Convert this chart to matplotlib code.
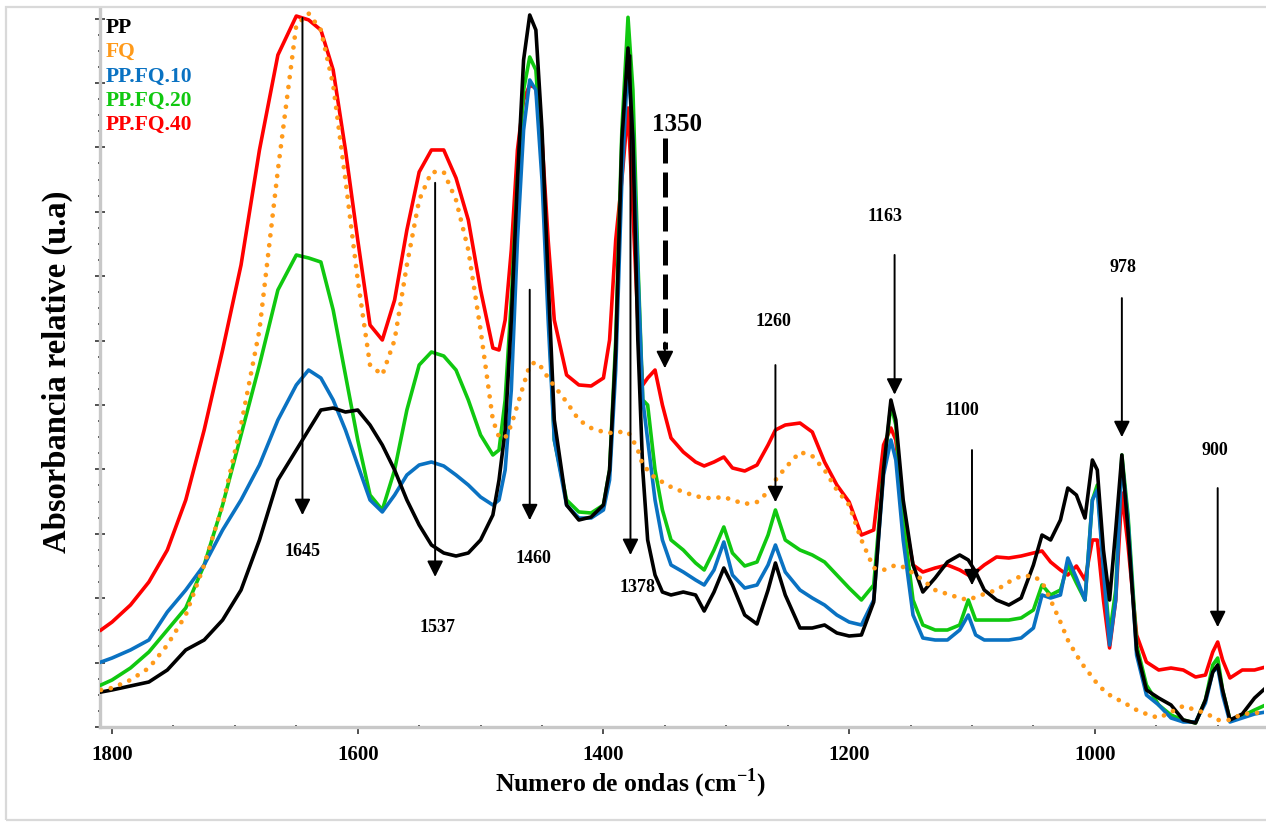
import matplotlib
matplotlib.use("Agg")
import matplotlib.pyplot as plt
from matplotlib.ticker import MultipleLocator, NullFormatter
from matplotlib.patches import Rectangle

plt.rcParams['font.family'] = ['Liberation Serif', 'DejaVu Serif']
plt.rcParams['mathtext.fontset'] = 'custom'
plt.rcParams['mathtext.rm'] = 'Liberation Serif'
plt.rcParams['mathtext.bf'] = 'Liberation Serif:bold'

# Wavenumber grid (cm-1), shared by all spectra
wavenumber = [1809, 1800, 1785, 1770, 1755, 1740, 1725, 1710, 1695, 1680,
              1665, 1650, 1640, 1630, 1620, 1610, 1600, 1590, 1580, 1570,
              1560, 1550, 1540, 1530, 1520, 1510, 1500, 1490, 1485, 1480,
              1475, 1470, 1465, 1460, 1455, 1450, 1445, 1440, 1430, 1420,
              1410, 1400, 1395, 1390, 1385, 1380, 1376, 1372, 1368, 1364,
              1358, 1352, 1345, 1335, 1325, 1318, 1310, 1302, 1295, 1285,
              1275, 1266, 1260, 1252, 1240, 1230, 1220, 1210, 1200, 1190,
              1180, 1172, 1166, 1162, 1156, 1148, 1140, 1130, 1120, 1110,
              1103, 1097, 1090, 1080, 1070, 1060, 1050, 1043, 1036, 1028,
              1022, 1015, 1008, 1002, 998, 993, 988, 983, 978, 973,
              966, 958, 948, 938, 928, 918, 910, 904, 900, 896,
              890, 880, 870, 861]

pp = [5.43, 5.75, 6.37, 6.99, 8.85, 11.96, 13.51, 16.61, 21.27, 29.04,
      38.35, 43.01, 46.12, 49.22, 49.53, 48.91, 49.22, 46.89, 43.79, 39.91,
      35.25, 31.37, 28.26, 27.02, 26.55, 27.02, 29.04, 32.92, 38.35, 46.12,
      63.20, 84.94, 103.57, 110.56, 108.23, 92.70, 69.41, 47.67, 34.47, 32.14,
      32.61, 34.47, 39.91, 58.54, 91.15, 105.43, 91.15, 60.09, 39.91, 29.04,
      23.60, 20.96, 20.50, 20.96, 20.50, 18.01, 20.96, 24.69, 22.05, 17.39,
      15.99, 21.27, 25.47, 20.50, 15.37, 15.37, 15.84, 14.60, 14.13, 14.29,
      19.41, 39.91, 50.78, 47.67, 35.25, 25.16, 20.96, 23.14, 25.62, 26.71,
      25.93, 24.07, 21.27, 19.72, 18.94, 20.03, 25.16, 29.81, 29.04, 32.14,
      37.11, 36.02, 32.45, 41.46, 39.91, 27.48, 19.72, 30.59, 42.24, 30.59,
      11.96, 5.75, 4.50, 3.42, 1.09, 0.62, 4.19, 8.54, 9.63, 5.75,
      1.09, 2.02, 4.50, 6.06]

fq = [5.75, 6.06, 7.30, 9.16, 12.73, 17.39, 25.16, 34.47, 46.89, 61.65,
      86.49, 109.01, 110.8, 108.23, 99.69, 84.94, 69.41, 56.21, 54.66, 60.09,
      71.74, 81.83, 86.18, 86.18, 81.83, 74.07, 61.65, 47.67, 45.03, 44.88,
      46.89, 50.0, 53.11, 56.21, 56.68, 55.75, 54.19, 52.95, 50.47, 47.67,
      46.43, 45.81, 45.65, 45.81, 45.81, 45.81, 44.57, 43.01, 40.68, 39.91,
      38.66, 38.04, 37.27, 36.49, 35.87, 35.56, 35.56, 35.71, 35.25, 34.63,
      34.94, 36.49, 38.35, 40.22, 42.70, 42.08, 39.91, 36.80, 34.47, 29.04,
      24.69, 24.38, 24.84, 25.16, 24.84, 23.91, 22.83, 21.27, 20.65, 20.03,
      19.72, 20.19, 20.65, 21.27, 22.52, 23.45, 23.45, 22.52, 19.72, 16.30,
      13.51, 11.18, 9.16, 7.76, 6.68, 5.75, 4.97, 4.50, 3.88, 3.42,
      2.64, 2.02, 1.40, 2.33, 3.26, 2.64, 2.17, 1.55, 1.09, 1.09,
      1.09, 2.02, 2.17, 2.33]

pp_fq10 = [10.09, 10.71, 11.96, 13.51, 17.86, 21.27, 25.16, 30.59, 35.25, 40.68,
           47.67, 53.11, 55.43, 54.19, 50.78, 46.12, 40.68, 35.25, 33.39, 36.02,
           39.13, 40.68, 41.15, 40.53, 39.13, 37.58, 35.71, 34.47, 35.25, 39.91,
           52.33, 75.62, 92.70, 100.47, 98.91, 84.94, 63.20, 44.57, 34.47, 32.45,
           32.45, 33.70, 38.35, 55.43, 84.94, 103.57, 91.15, 70.96, 50.78, 44.57,
           35.25, 29.04, 25.16, 24.07, 22.83, 22.05, 24.38, 28.73, 23.60, 21.58,
           22.05, 25.16, 28.26, 24.07, 21.27, 20.03, 18.94, 17.39, 16.30, 15.84,
           19.72, 39.13, 44.57, 41.46, 29.04, 17.39, 13.82, 13.51, 13.51, 15.06,
           17.39, 14.29, 13.51, 13.51, 13.51, 13.82, 15.37, 20.50, 20.03, 20.50,
           26.24, 23.14, 19.72, 35.25, 36.80, 24.38, 12.73, 19.72, 41.46, 32.14,
           11.18, 4.97, 3.42, 1.40, 0.78, 0.78, 3.73, 8.54, 9.32, 4.97,
           0.78, 1.40, 2.02, 2.33]

pp_fq20 = [6.52, 7.30, 9.16, 11.65, 15.06, 18.48, 25.16, 34.47, 45.34, 56.21,
           67.86, 73.29, 72.83, 72.20, 64.75, 54.66, 44.57, 36.02, 33.70, 39.91,
           49.22, 56.21, 58.23, 57.61, 55.43, 50.78, 45.34, 42.24, 43.01, 50.78,
           66.30, 84.94, 98.91, 104.04, 102.02, 88.04, 66.30, 44.57, 35.25, 33.39,
           33.23, 34.47, 39.91, 60.09, 92.70, 110.2, 98.91, 72.52, 50.78, 50.0,
           39.91, 33.70, 29.04, 27.48, 25.47, 24.38, 27.48, 31.06, 27.02, 25.0,
           25.62, 29.81, 33.70, 29.04, 27.48, 26.71, 25.62, 23.60, 21.58, 19.72,
           22.05, 39.91, 50.0, 46.89, 32.14, 19.72, 15.84, 15.06, 15.06, 15.84,
           19.72, 16.61, 16.61, 16.61, 16.61, 16.93, 18.17, 22.05, 20.50, 21.27,
           25.16, 22.36, 19.72, 35.25, 37.58, 25.16, 14.29, 21.27, 42.24, 32.92,
           12.73, 6.52, 3.42, 1.86, 1.09, 0.62, 4.19, 9.63, 10.71, 5.75,
           1.09, 1.71, 2.64, 3.42]

pp_fq40 = [15.06, 16.30, 18.94, 22.52, 27.48, 35.25, 46.12, 58.54, 71.74, 89.60,
           104.35, 110.4, 109.8, 108.23, 102.02, 89.60, 75.62, 62.42, 60.09, 66.30,
           77.17, 86.18, 89.60, 89.60, 85.25, 78.73, 67.86, 58.85, 58.54, 63.20,
           74.07, 89.60, 97.36, 99.69, 99.22, 91.15, 75.62, 63.20, 54.66, 53.11,
           52.95, 54.19, 60.09, 75.62, 85.0, 96.12, 80.0, 63.20, 53.11, 54.19,
           55.43, 50.0, 44.88, 42.70, 41.15, 40.53, 41.15, 41.93, 40.22, 39.75,
           40.68, 43.79, 46.12, 46.89, 47.20, 45.81, 41.15, 37.58, 34.94, 29.81,
           30.59, 43.79, 46.43, 44.57, 33.70, 25.16, 24.07, 24.69, 25.16, 24.38,
           23.60, 24.07, 25.16, 26.40, 26.24, 26.55, 27.02, 27.33, 25.62, 24.38,
           23.60, 25.0, 22.83, 29.04, 29.04, 19.72, 12.27, 19.72, 36.34, 28.26,
           14.29, 10.09, 8.85, 9.16, 8.85, 7.76, 8.07, 11.65, 13.20, 10.40,
           7.61, 8.85, 8.85, 9.32]

series_names = ["PP", "FQ", "PP.FQ.10", "PP.FQ.20", "PP.FQ.40"]
series_colors = ["#000000", "#FF9A1A", "#0A72C2", "#10C810", "#FF0000"]

# Band assignments: (wavenumber, arrow top, arrow tip)
band_pos = [1645, 1537, 1460, 1378, 1260, 1163, 1100, 978, 900]
band_top = [110.1, 84.5, 67.9, 104.3, 56.2, 73.3, 43.0, 66.6, 37.1]
band_tip = [32.9, 23.3, 32.1, 26.7, 34.9, 51.6, 22.0, 45.0, 15.5]
band_text_x = [1645, 1535, 1457, 1372, 1262, 1171, 1108, 977, 902]
band_text_y = [27.2, 15.5, 26.2, 21.6, 62.9, 79.2, 49.2, 71.3, 43.0]
# Dashed marker for the 1350 band
dash_pos, dash_top, dash_tip = 1350, 91.5, 55.7
dash_text_x, dash_text_y = 1340, 93.6

W, H = 1266, 823
fig = plt.figure(figsize=(W / 100, H / 100), dpi=100)
fig.patches.append(Rectangle((6 / W, 0.004), 1.0, 1 - 7 / H - 0.004,
                             transform=fig.transFigure, fill=False,
                             edgecolor="#d9d9d9", linewidth=1.6))

ax = fig.add_axes([100 / W, 1 - 727 / H, (1264 - 100) / W, (727 - 9) / H])
ax.set_xlim(1809.8, 862.3)
ax.set_ylim(0, 111.49)

spectra = {"PP": pp, "FQ": fq, "PP.FQ.10": pp_fq10,
           "PP.FQ.20": pp_fq20, "PP.FQ.40": pp_fq40}
order = ["PP.FQ.40", "PP.FQ.20", "PP.FQ.10", "PP", "FQ"]
for z, name in enumerate(order):
    c = series_colors[series_names.index(name)]
    if name == "FQ":
        ax.plot(wavenumber, spectra[name], color=c, lw=3.4,
                linestyle=(0, (0.01, 2.1)), dash_capstyle="round",
                zorder=3 + z)
    else:
        ax.plot(wavenumber, spectra[name], color=c, lw=2.6,
                solid_joinstyle="round", zorder=3 + z)

# Arrows marking the bands
for x, yt, yb in zip(band_pos, band_top, band_tip):
    ax.annotate("", xy=(x, yb), xytext=(x, yt),
                arrowprops=dict(arrowstyle="-|>", color="black", lw=1.4,
                                mutation_scale=24, shrinkA=0, shrinkB=0),
                zorder=20)
for t, tx, ty in zip(band_pos, band_text_x, band_text_y):
    ax.text(tx, ty, str(t), ha="center", va="center", fontsize=13,
            fontweight="bold", zorder=21)

ax.plot([dash_pos, dash_pos], [dash_top, dash_tip + 3], color="black",
        lw=3.6, linestyle=(0, (5, 1.8)), zorder=20)
ax.annotate("", xy=(dash_pos, dash_tip), xytext=(dash_pos, dash_tip + 4),
            arrowprops=dict(arrowstyle="-|>", color="black", lw=1.4,
                            mutation_scale=26, shrinkA=0, shrinkB=0),
            zorder=20)
ax.text(dash_text_x, dash_text_y, str(dash_pos), ha="center", va="center",
        fontsize=18, fontweight="bold", zorder=21)

# Series names in the upper left corner
for i, (name, c) in enumerate(zip(series_names, series_colors)):
    ax.text(0.005, 1 - (28 - 9 + 24.2 * i) / (727 - 9), name,
            transform=ax.transAxes, color=c, fontsize=15.5, fontweight="bold",
            ha="left", va="center", zorder=22)

# Axes styling
for s in ["top", "right"]:
    ax.spines[s].set_visible(False)
for s in ["left", "bottom"]:
    ax.spines[s].set_color("#c8c8c8")
    ax.spines[s].set_linewidth(2.4)

ax.xaxis.set_major_locator(MultipleLocator(200))
ax.xaxis.set_minor_locator(MultipleLocator(50))
ax.yaxis.set_major_locator(MultipleLocator(10))
ax.yaxis.set_minor_locator(MultipleLocator(2.5))
ax.yaxis.set_major_formatter(NullFormatter())
ax.tick_params(axis="x", which="major", direction="out", length=5, width=1.2,
               color="#333333", labelsize=15, pad=8)
ax.tick_params(axis="x", which="minor", direction="inout", length=3,
               width=1.2, color="#333333")
ax.tick_params(axis="y", which="major", direction="inout", length=7,
               width=1.2, color="#333333")
ax.tick_params(axis="y", which="minor", direction="inout", length=3,
               width=1.2, color="#333333")
for lbl in ax.get_xticklabels():
    lbl.set_fontweight("bold")

# Axis titles
fig.text(630 / W, 1 - 783 / H, r"Numero de ondas (cm$^{\mathbf{-1}}$)",
         fontsize=18.5, fontweight="bold", ha="center", va="center")
fig.text(57 / W, 1 - 372 / H, "Absorbancia relative (u.a)", rotation=90,
         fontsize=23.5, fontweight="bold", ha="center", va="center")

fig.savefig("out.png", dpi=100)
